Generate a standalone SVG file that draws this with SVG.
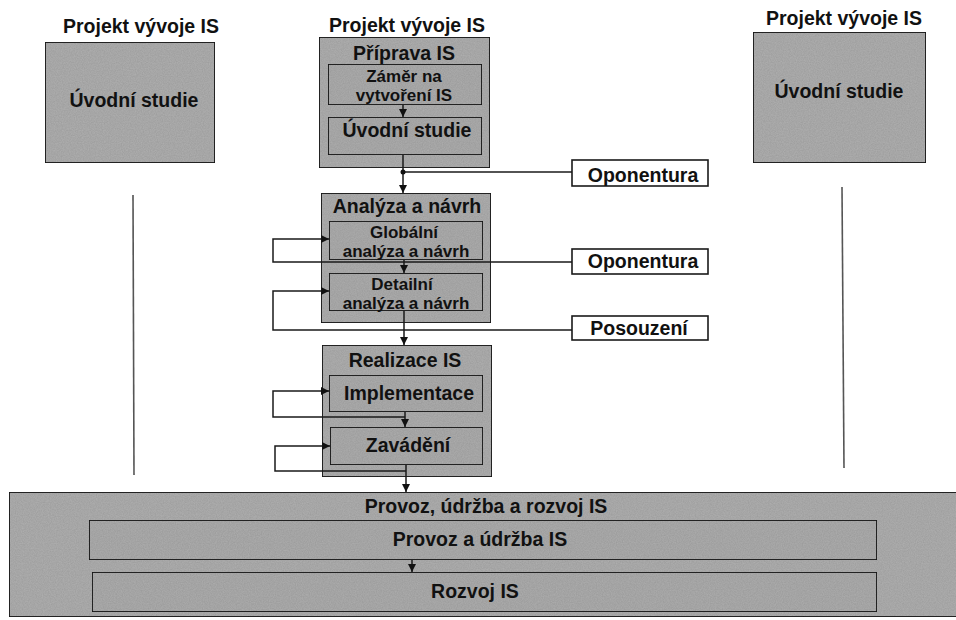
<svg xmlns="http://www.w3.org/2000/svg" width="956" height="620" viewBox="0 0 956 620">
  <defs>
    <!-- fine print grain for the shaded panels -->
    <filter id="grain" x="0" y="0" width="100%" height="100%">
      <feTurbulence type="fractalNoise" baseFrequency="0.85" numOctaves="2" seed="3" result="n"/>
      <feColorMatrix in="n" type="matrix" values="0 0 0 0 0  0 0 0 0 0  0 0 0 0 0  0 0 0 0.24 0" result="dark"/>
      <feComposite in="dark" in2="SourceGraphic" operator="in" result="dots"/>
      <feMerge><feMergeNode in="SourceGraphic"/><feMergeNode in="dots"/></feMerge>
    </filter>
    <marker id="arrow" viewBox="0 0 10 10" refX="10" refY="5" markerWidth="8" markerHeight="8" markerUnits="userSpaceOnUse" orient="auto">
      <path d="M0,0 L10,5 L0,10 z" fill="#111"/>
    </marker>
    <style>
      .panel { fill: #b0b0b0; stroke: #1a1a1a; stroke-width: 1.8; filter: url(#grain); }
      .inner { fill: #aeaeae; stroke: #1a1a1a; stroke-width: 1.8; filter: url(#grain); }
      .label { fill: #fff; stroke: #1a1a1a; stroke-width: 1.6; }
      .t { font-family: "Liberation Sans", Arial, sans-serif; font-weight: bold; font-size: 19.5px; fill: #111; text-anchor: middle; }
      .s { font-size: 17px; }
      .c { fill: none; stroke: #1a1a1a; stroke-width: 1.5; }
      .a { fill: none; stroke: #1a1a1a; stroke-width: 1.5; marker-end: url(#arrow); }
      .guide { stroke: #555; stroke-width: 1.6; }
    </style>
  </defs>
  <rect width="956" height="620" fill="#fff"/>

  <!-- left project -->
  <g id="project-left">
    <text class="t" x="141" y="33">Projekt vývoje IS</text>
    <rect class="panel" x="45" y="42" width="170" height="121"/>
    <text class="t" x="134" y="107">Úvodní studie</text>
    <line class="guide" x1="133" y1="195" x2="134" y2="475"/>
  </g>

  <!-- right project -->
  <g id="project-right">
    <text class="t" x="844" y="25">Projekt vývoje IS</text>
    <rect class="panel" x="753" y="32" width="173" height="131"/>
    <text class="t" x="839" y="98">Úvodní studie</text>
    <line class="guide" x1="842" y1="187" x2="844" y2="468"/>
  </g>

  <!-- centre project title -->
  <g id="project-centre">
    <text class="t" x="407" y="32">Projekt vývoje IS</text>
  </g>

  <!-- preparation phase -->
  <g id="priprava">
    <rect class="panel" x="319" y="37" width="171" height="131"/>
    <text class="t" x="404" y="60">Příprava IS</text>
  </g>
  <g id="zamer">
    <rect class="inner" x="328" y="64" width="154" height="41"/>
    <text class="t s" x="404" y="82">Záměr na</text>
    <text class="t s" x="404" y="101">vytvoření IS</text>
  </g>
  <g id="uvodni-studie">
    <rect class="inner" x="328" y="117" width="154" height="38"/>
    <text class="t" x="407" y="137">Úvodní studie</text>
  </g>

  <!-- analysis and design phase -->
  <g id="analyza">
    <rect class="panel" x="321" y="193" width="170" height="130"/>
    <text class="t" x="407" y="213">Analýza a návrh</text>
  </g>
  <g id="globalni">
    <rect class="inner" x="329" y="221" width="154" height="39"/>
    <text class="t s" x="404" y="238">Globální</text>
    <text class="t s" x="406" y="257">analýza a návrh</text>
  </g>
  <g id="detailni">
    <rect class="inner" x="329" y="273" width="154" height="38"/>
    <text class="t s" x="402" y="290">Detailní</text>
    <text class="t s" x="406" y="309">analýza a návrh</text>
  </g>

  <!-- realisation phase -->
  <g id="realizace">
    <rect class="panel" x="322" y="345" width="170" height="132"/>
    <text class="t" x="405" y="367">Realizace IS</text>
  </g>
  <g id="implementace">
    <rect class="inner" x="329" y="375" width="154" height="37"/>
    <text class="t" x="409" y="400">Implementace</text>
  </g>
  <g id="zavadeni">
    <rect class="inner" x="330" y="427" width="153" height="38"/>
    <text class="t" x="408" y="452">Zavádění</text>
  </g>

  <!-- review labels -->
  <g id="oponentura-1">
    <rect class="label" x="572" y="160" width="136" height="26"/>
    <text class="t" x="643" y="182">Oponentura</text>
  </g>
  <g id="oponentura-2">
    <rect class="label" x="572" y="249" width="136" height="25"/>
    <text class="t" x="643" y="268">Oponentura</text>
  </g>
  <g id="posouzeni">
    <rect class="label" x="572" y="316" width="136" height="24"/>
    <text class="t" x="639" y="335">Posouzení</text>
  </g>

  <!-- operation, maintenance and development -->
  <g id="provoz-udrzba-rozvoj">
    <rect class="panel" x="9" y="492" width="960" height="125"/>
    <text class="t" x="486" y="513">Provoz, údržba a rozvoj IS</text>
  </g>
  <g id="provoz-udrzba">
    <rect class="inner" x="89" y="520" width="788" height="40"/>
    <text class="t" x="480" y="546">Provoz a údržba IS</text>
  </g>
  <g id="rozvoj">
    <rect class="inner" x="92" y="572" width="785" height="40"/>
    <text class="t" x="475" y="598">Rozvoj IS</text>
  </g>

  <!-- connectors -->
  <g id="connectors">
    <line class="a" x1="403" y1="105" x2="403" y2="117"/>
    <line class="a" x1="403" y1="155" x2="403" y2="193"/>
    <line class="c" x1="572" y1="172" x2="403" y2="172"/>
    <circle cx="403" cy="172" r="2.5" fill="#111"/>

    <line class="a" x1="404" y1="260" x2="404" y2="273"/>
    <path class="a" d="M572,262 H273 V239 H329"/>

    <line class="a" x1="404" y1="311" x2="404" y2="345"/>
    <path class="a" d="M572,330 H273 V291 H329"/>

    <line class="a" x1="405" y1="412" x2="405" y2="427"/>
    <path class="a" d="M405,417 H273 V391 H329"/>

    <line class="a" x1="406" y1="465" x2="406" y2="492"/>
    <path class="a" d="M406,471 H275 V446 H330"/>

    <line class="a" x1="412" y1="560" x2="412" y2="572"/>
  </g>
</svg>
